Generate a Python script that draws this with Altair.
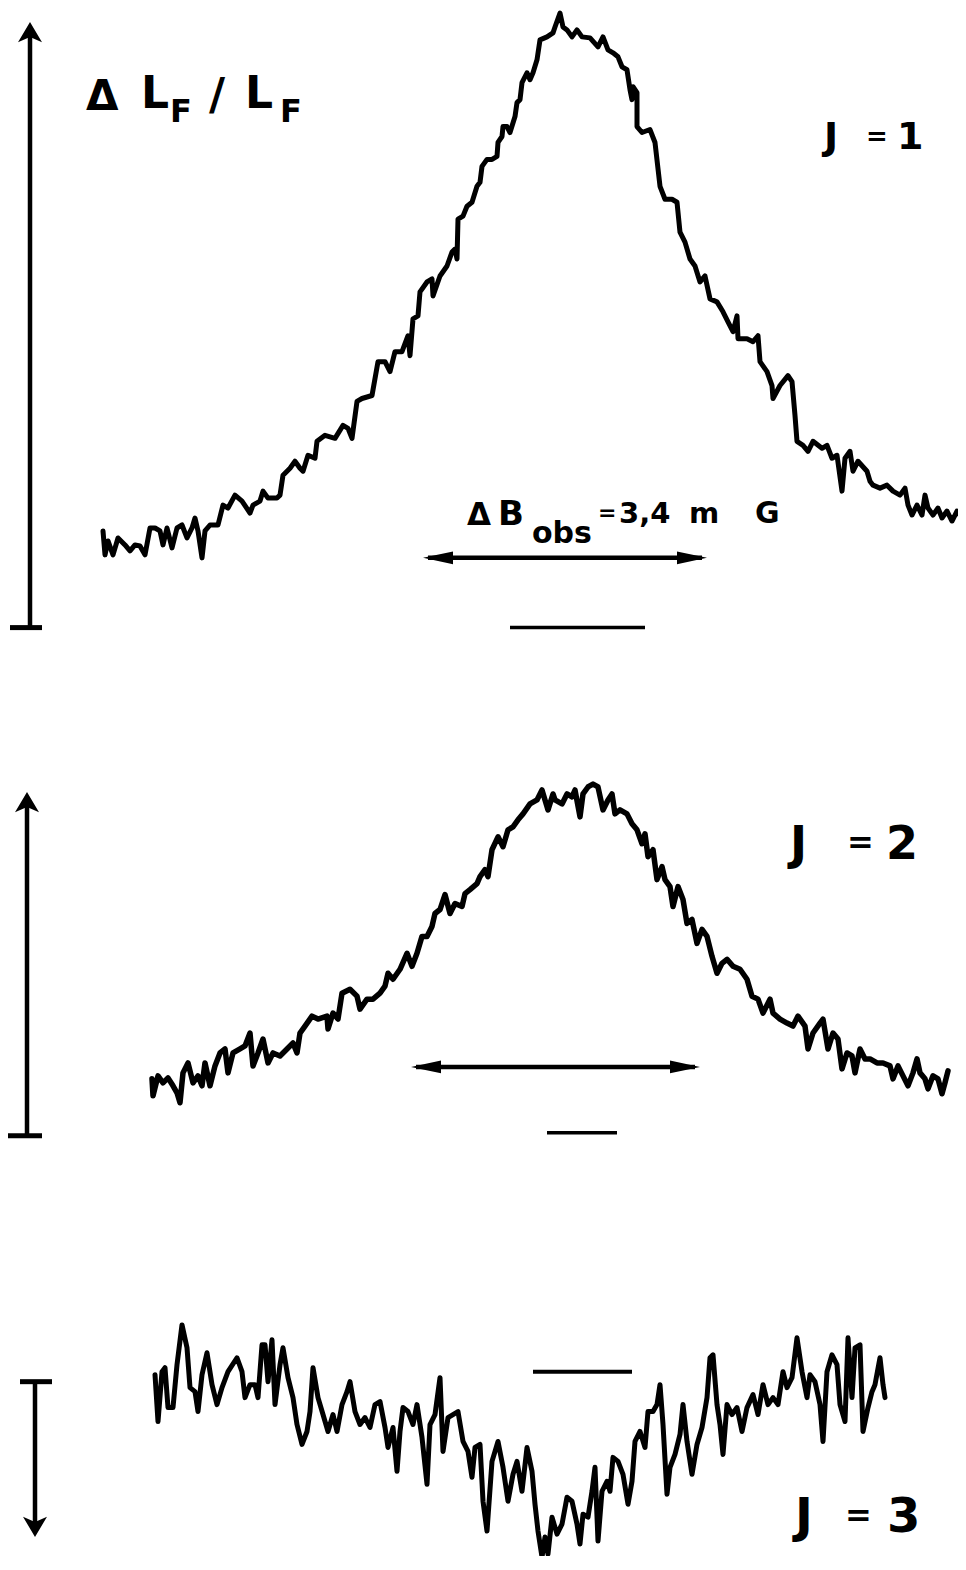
import altair as alt
import pandas as pd

# Recorder traces (field position, signal) in figure units
J1 = [(103,533),(105,557),(108,543),(113,557),(118,540),(125,547),(130,553),(135,547),(140,548),(145,557),
      (150,530),(155,530),(160,533),(163,547),(167,530),(172,550),(177,530),(182,527),(187,540),(192,530),
      (195,520),(198,533),(202,560),(205,533),(210,527),(218,527),(223,507),(228,510),(235,497),(242,503),
      (250,515),(253,507),(260,503),(263,493),(268,500),(277,500),(280,497),(283,477),(290,470),(295,463),
      (300,470),(303,473),(308,457),(315,460),(317,443),(325,437),(335,440),(343,427),(348,430),(352,440),
      (357,403),(362,400),(372,397),(378,363),(385,363),(390,373),(395,353),(402,353),(408,337),(410,357),
      (413,320),(418,317),
      (420,293),(427,283),(432,280),(433,297),(440,277),(447,267),(452,253),(455,250),(457,260),(458,220),
      (463,217),(467,207),(472,203),(477,187),(480,183),(482,167),(487,160),(492,160),(497,157),(498,143),
      (502,137),(503,127),(507,127),(510,133),(515,117),(517,103),(520,100),(522,83),(527,73),(530,80),
      (533,73),(537,60),(540,40),(547,37),(553,33),(555,27),(560,13),(563,27),(567,30),(572,37),(577,30),
      (582,37),(590,38),(598,47),(603,37),(608,50),(613,53),(618,57),(622,67),(627,70),(630,90),(632,100),
      (633,87),(637,93),(637,127),
      (642,133),(650,130),(655,143),(660,187),(665,200),(672,200),(677,203),(680,233),(685,243),(690,260),
      (695,267),(700,283),(705,277),(710,300),(717,303),(723,313),(728,323),(733,333),(737,317),(738,340),
      (747,340),(753,343),(758,337),(760,363),(767,373),(772,387),(773,400),(780,387),(788,377),(792,383),
      (795,417),(797,443),(803,447),(808,453),(813,443),(822,450),(827,447),(832,460),(837,457),(842,493),
      (845,460),(850,453),(853,473),(858,463),(867,473),(870,483),(873,487),(880,490),(887,487),(893,493),
      (900,497),(905,490),(908,507),(912,517),(917,507),(922,517),(925,497),(928,510),(933,517),(938,510),
      (942,520),(947,513),(952,523),(957,513),(962,520)]

J2 = [(152,1083),(153,1100),(158,1080),(163,1087),(168,1082),(173,1090),(177,1097),(180,1107),(183,1077),(188,1067),
      (193,1087),(198,1080),(202,1090),(205,1067),(210,1090),(215,1070),(220,1057),(225,1053),(228,1077),(233,1057),
      (240,1053),(245,1050),(250,1037),(253,1070),(258,1057),(263,1043),(268,1067),(273,1057),(280,1060),(287,1053),
      (293,1047),(297,1057),(300,1037),(305,1030),(312,1020),(318,1023),(327,1020),(328,1033),(333,1017),(338,1023),
      (342,997),(350,993),(357,1000),(360,1013),(367,1003),(373,1003),(380,997),(385,990),(388,977),(393,983),
      (400,973),(407,957),(412,970),(417,957),(422,940),(427,940),(432,930),(435,917),(440,913),(445,898),
      (450,917),(455,907),(462,910),(465,897),(470,893),(477,887),(480,880),(485,873),(488,880),(492,853),
      (498,840),(503,850),(508,833),(513,830),(518,823),(523,817),(530,807),(537,803),(542,793),(545,803),
      (548,813),(553,797),
      (555,803),(562,807),(567,797),(572,800),(575,793),(580,820),(583,797),(588,790),(593,787),(598,790),
      (603,813),(608,803),(612,797),(615,817),(620,813),(627,817),(632,827),(637,833),(642,847),(645,837),
      (648,860),(653,853),(657,883),(662,870),(665,883),(670,890),(673,910),(678,890),(683,903),(687,927),
      (692,923),(697,947),(702,933),(707,940),(712,960),(717,977),(722,967),(727,963),(733,970),(740,973),
      (747,983),(752,1000),(758,1003),(763,1017),(770,1003),(773,1017),(780,1023),(787,1027),(793,1030),(798,1020),
      (805,1030),(808,1053),(813,1037),(820,1027),(823,1023),(828,1053),(833,1037),(838,1043),(842,1073),(847,1057),
      (852,1060),(855,1077),(860,1053),(865,1063),(870,1063),(877,1067),(883,1067),(890,1070),(893,1083),(898,1070),
      (903,1080),(908,1090),(913,1077),(917,1063),(920,1077),(925,1083),(928,1093),(933,1080),(938,1083),(942,1098),
      (945,1087),(948,1075)]

J3 = [(155,1380),(158,1427),(162,1377),(165,1373),(168,1413),(173,1413),(177,1370),(182,1330),(187,1353),(190,1393),
      (195,1397),(198,1417),(202,1380),(207,1358),(212,1390),(217,1410),(222,1393),(228,1377),(237,1363),(242,1377),
      (245,1403),(250,1390),(255,1390),(258,1403),(262,1350),(265,1350),(268,1387),(272,1345),(275,1410),(280,1370),
      (283,1353),(288,1383),(293,1403),(297,1430),(302,1450),(307,1437),(310,1417),(313,1373),(318,1403),(323,1420),
      (328,1437),(333,1420),(337,1437),(342,1410),(347,1397),(350,1387),(355,1417),(360,1430),(365,1423),(370,1433),
      (375,1410),(380,1407),(385,1433),(388,1453),(393,1433),(397,1477),(400,1437),(403,1413),(408,1417),(413,1430),
      (417,1410),(422,1443),(427,1490),(430,1430),(435,1420),(440,1383),(443,1457),(448,1423),(453,1420),(458,1417),
      (463,1447),(468,1457),(472,1483),(475,1453),(480,1450),(483,1507),(487,1537),(492,1467),(498,1447),(503,1473),
      (508,1507),(513,1480),(517,1467),(522,1497),(527,1453),(532,1477),
      (535,1510),(538,1537),(542,1563),(545,1543),(548,1560),(552,1523),(557,1540),(562,1530),(567,1503),(572,1507),
      (577,1530),(580,1550),(583,1520),(588,1523),(592,1497),(595,1473),(598,1547),(602,1497),(607,1487),(610,1497),
      (613,1463),(618,1467),(623,1480),(628,1510),(632,1487),(635,1447),(640,1437),(645,1453),(648,1417),(653,1417),
      (657,1410),(660,1390),(663,1430),(667,1500),(670,1473),(675,1460),(680,1440),(683,1410),(687,1447),(692,1480),
      (697,1450),(702,1433),(707,1403),(710,1363),(713,1360),(717,1410),(720,1430),(723,1460),(727,1410),(732,1420),
      (737,1413),(742,1437),(747,1413),(753,1400),(758,1420),(763,1390),(768,1410),(773,1403),(778,1410),(783,1377),
      (787,1393),(792,1383),(797,1343),(802,1377),(807,1403),(810,1380),(815,1387),(820,1410),(823,1447),(827,1377),
      (832,1360),(837,1370),(840,1410),(845,1427),(848,1343),(852,1403),(855,1353),(860,1350),(863,1437),(868,1413),
      (872,1397),(875,1390),(880,1363),(883,1390),(885,1403)]

# Scale bars and arrow shafts: (x, y, x2, y2, stroke width)
SEGMENTS = [(30,28,30,630,4.5),(10,630,42,630,5),
            (27,800,27,1140,4.5),(8,1140,42,1140,5),
            (35,1387,35,1538,4.5),(20,1387,52,1387,5),
            (428,560,702,560,4.5),(510,630,645,630,3.5),
            (416,1071,695,1071,4.5),(547,1137,617,1137,3.5),
            (533,1377,632,1377,4)]

# Arrow heads: (x, y, direction)
HEADS = [(30,22,"up"),(27,795,"up"),(35,1543,"down"),
         (423,560,"left"),(707,560,"right"),
         (411,1071,"left"),(700,1071,"right")]

# Text pieces: (text, x, baseline y, font size)
LABELS = [("Δ",86,110,42),("L",141,108,44),("F",170,122,32),("/",209,110,44),("L",245,108,44),("F",280,122,32),
          ("J",824,150,38),("=",866,146,26),("1",897,150,38),
          ("J",790,862,46),("=",847,856,32),("2",886,862,46),
          ("J",795,1538,48),("=",845,1532,32),("3",887,1538,48),
          ("Δ",467,527,31),("B",498,527,34),("obs",532,545,30),("=",598,522,22),
          ("3,4",619,525,29),("m",689,525,29),("G",755,525,30)]

SHAPES = {"up": ("M0,0L-1,1.7L0,1.25L1,1.7Z", 576),
          "down": ("M0,0L-1,-1.7L0,-1.25L1,-1.7Z", 576),
          "left": ("M0,0L2,-0.42L2,0.42Z", 900),
          "right": ("M0,0L-2,-0.42L-2,0.42Z", 900)}

XS = alt.Scale(domain=[8, 958])
YS = alt.Scale(domain=[8, 1562], reverse=True)


def trace_layer(pts, width):
    df = pd.DataFrame({"x": [p[0] for p in pts], "y": [p[1] for p in pts], "i": list(range(len(pts)))})
    return alt.Chart(df).mark_line(color="black", strokeWidth=width, strokeJoin="round",
                                   strokeCap="round").encode(
        x=alt.X("x:Q", scale=XS, axis=None),
        y=alt.Y("y:Q", scale=YS, axis=None),
        order="i:Q")


seg_df = pd.DataFrame(SEGMENTS, columns=["x", "y", "x2", "y2", "w"])
segs = alt.Chart(seg_df).mark_rule(color="black", strokeCap="butt").encode(
    x=alt.X("x:Q", scale=XS, axis=None), y=alt.Y("y:Q", scale=YS, axis=None),
    x2="x2:Q", y2="y2:Q", strokeWidth=alt.StrokeWidth("w:Q", scale=None))

head_layers = []
for kind, (path, size) in SHAPES.items():
    hdf = pd.DataFrame([h for h in HEADS if h[2] == kind], columns=["x", "y", "kind"])
    head_layers.append(alt.Chart(hdf).mark_point(shape=path, size=size, filled=True, color="black",
                                                 opacity=1).encode(
        x=alt.X("x:Q", scale=XS, axis=None), y=alt.Y("y:Q", scale=YS, axis=None)))

lab_df = pd.DataFrame(LABELS, columns=["t", "x", "y", "s"])
labels = alt.Chart(lab_df).mark_text(align="left", baseline="alphabetic", font="DejaVu Sans",
                                     fontWeight="bold", color="black").encode(
    x=alt.X("x:Q", scale=XS, axis=None), y=alt.Y("y:Q", scale=YS, axis=None),
    text="t:N", size=alt.Size("s:Q", scale=None))

chart = alt.layer(trace_layer(J1, 5), trace_layer(J2, 5.5), trace_layer(J3, 5),
                  segs, *head_layers, labels).properties(
    width=950, height=1548, padding=0, autosize="none", background="white"
).configure_view(stroke=None)

chart.save("out.html", embed_options={"renderer": "svg", "actions": False})
